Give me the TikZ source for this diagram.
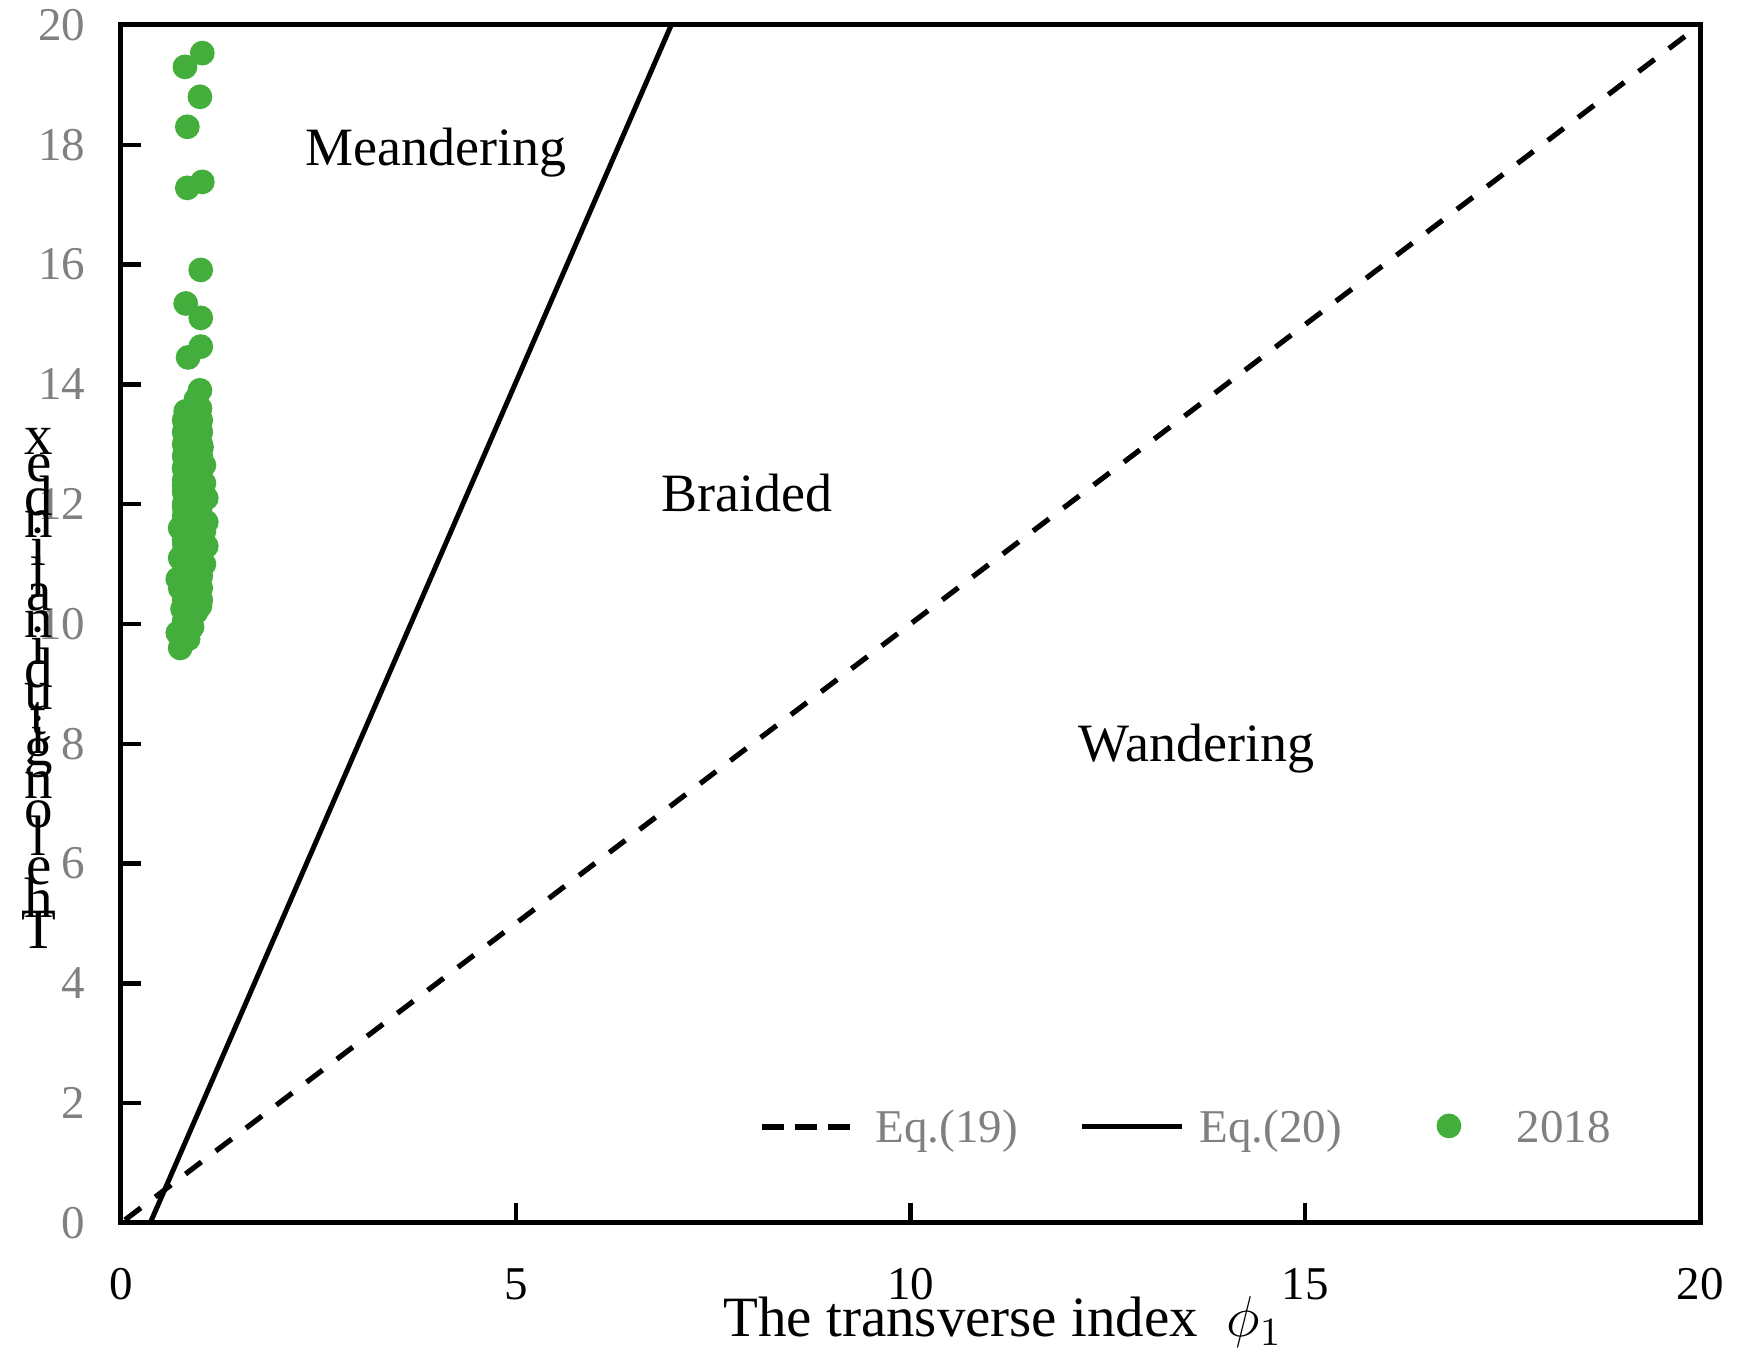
\documentclass[tikz,border=0pt]{standalone}
\usepackage{fontspec}
\setmainfont{Liberation Serif}
\usetikzlibrary{positioning}

\definecolor{ptgreen}{RGB}{68,174,60}
\definecolor{labgray}{RGB}{128,128,128}

\begin{document}
\begin{tikzpicture}[x=19.7375pt, y=14.975pt,
        frame/.style={line width=1.25pt},
        tickmark/.style={line width=1.1pt},
        ynum/.style={anchor=east, inner sep=0pt, text=labgray, font=\fontsize{11.75}{14}\selectfont},
        xnum/.style={inner sep=0pt, font=\fontsize{11.75}{14}\selectfont},
        region/.style={anchor=base, inner sep=0pt, font=\fontsize{13.5}{16}\selectfont},
        legtext/.style={anchor=base west, inner sep=0pt, text=labgray, font=\fontsize{11.75}{14}\selectfont},
        ylet/.style={inner sep=0pt, font=\fontsize{14.25}{17}\selectfont},
        eqnine/.style={line width=1.3pt, dash pattern=on 5pt off 4.5pt},
        eqtwenty/.style={line width=1.25pt},
        dot/.style={fill=ptgreen}]
    \useasboundingbox (-1.5326,-2.454) rectangle (20.621,20.417);

    % observed points
    \foreach \py in {10.4,10.6,...,13.6}
        \foreach \px in {0.8,0.91,1.01}
            \fill[dot] (\px,\py) circle (3.1pt);
    \foreach \px/\py in {0.75/9.6, 0.85/9.75, 0.72/9.85, 0.9/9.95, 0.8/10.05, 0.95/10.2,
            0.78/10.25, 1.0/10.3, 0.85/10.45, 0.75/10.6, 0.95/10.6, 0.72/10.75, 1.0/10.8,
            0.85/10.9, 1.05/11.0, 0.75/11.1, 0.95/11.15, 1.08/11.3, 0.8/11.35, 0.92/11.45,
            1.05/11.55, 0.75/11.6, 1.08/11.7, 0.88/11.75, 1.0/11.9, 0.8/11.95, 1.08/12.1,
            0.9/12.15, 0.8/12.3, 1.05/12.35, 0.95/12.5, 0.8/12.6, 1.05/12.65, 0.9/12.75,
            0.82/12.9, 1.02/12.95, 0.92/13.05, 0.82/13.2, 1.0/13.25, 0.9/13.4, 0.82/13.55,
            1.0/13.6, 0.95/13.75, 1.0/13.9,
            0.85/14.45, 1.01/14.63, 1.01/15.11, 0.82/15.35, 1.01/15.91,
            0.84/17.28, 1.03/17.38, 0.84/18.3, 1.0/18.8, 0.81/19.3, 1.03/19.53}
        \fill[dot] (\px,\py) circle (3.1pt);

    % the two criteria
    \draw[eqnine] (0.05,0.05) -- (19.9,19.9);
    \draw[eqtwenty] (0.37,0) -- (6.97,20);

    % frame and ticks
    \draw[frame] (0,0) rectangle (20,20);
    \foreach \t in {2,4,...,18}
        \draw[tickmark] (0,\t) -- (0.253,\t);
    \foreach \t in {5,10,15}
        \draw[tickmark] (\t,0) -- (\t,0.334);
    \foreach \t in {0,2,...,20}
        \node[ynum] (y\t) at (-0.443,\t) {\t};
    \foreach \t in {0,5,...,20}
        \node[xnum] (x\t) at (\t,-1.018) {\t};

    % axis titles
    \node[anchor=base west, inner sep=0pt, font=\fontsize{14.25}{17}\selectfont] (xtitle)
        at (7.62,-1.903) {The transverse index \ $\phi_{1}$};
    \foreach \c/\m [count=\i] in {T/0.3055, h/0.861, e/1.333, l/1.944, o/2.333, n/2.833,
            g/3.333, i/3.722, t/4.0, u/4.389, d/4.889, i/5.278, n/5.667, a/6.139, l/6.5,
            i/7.028, n/7.417, d/7.917, e/8.389, x/8.861}
        \node[ylet] (ytitle\i) at (-1.04,{4.608+0.9516*\m}) {\c};

    % regions
    \node[region] (meander) at (3.99,17.66) {Meandering};
    \node[region] (braid) at (7.93,11.87) {Braided};
    \node[region] (wander) at (13.62,7.70) {Wandering};

    % legend
    \coordinate (l19a) at (8.12,1.603);
    \coordinate (l19b) at (9.23,1.603);
    \draw[eqnine, dash pattern=on 5.5pt off 2.8pt] (l19a) -- (l19b);
    \node[legtext] (leg19) at (9.55,1.336) {Eq.(19)};
    \coordinate (l20a) at (12.17,1.603);
    \coordinate (l20b) at (13.44,1.603);
    \draw[eqtwenty] (l20a) -- (l20b);
    \node[legtext] (leg20) at (13.65,1.336) {Eq.(20)};
    \fill[dot] (16.82,1.62) circle (3.1pt);
    \node[legtext] (leg18) at (17.67,1.336) {2018};
\end{tikzpicture}
\end{document}
